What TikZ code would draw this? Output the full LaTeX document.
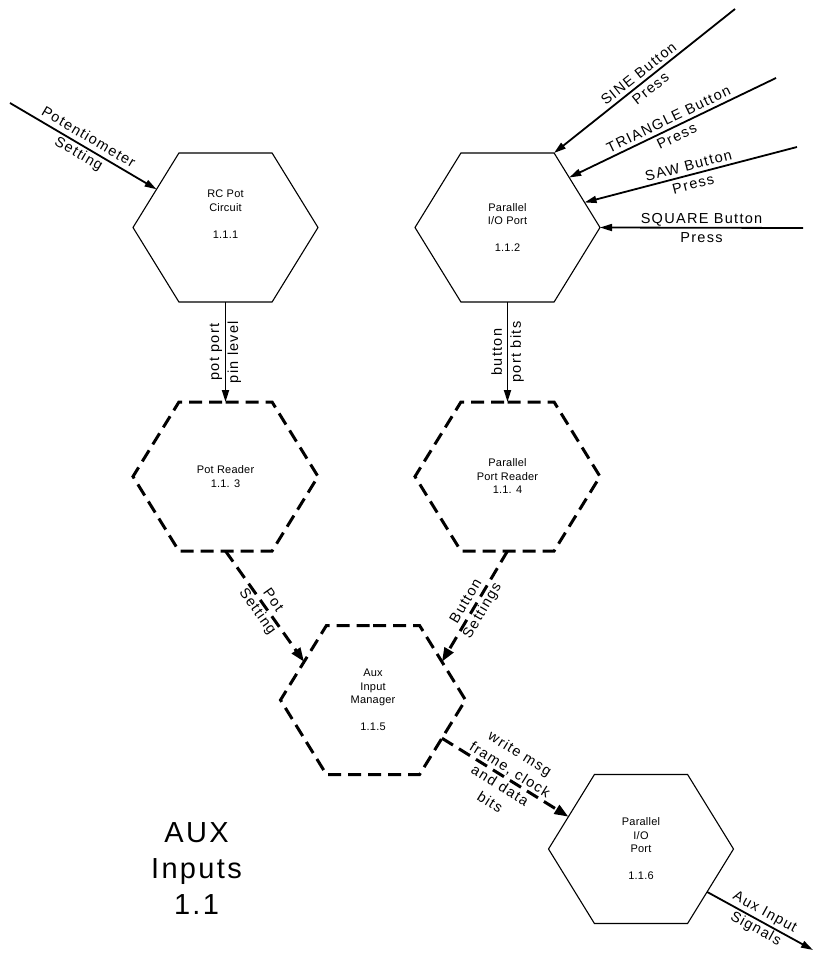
\documentclass[tikz,border=0pt]{standalone}
\usepackage{fontspec}
\setmainfont{Liberation Sans}
\newfontfamily\hexfam[LetterSpace=2]{Liberation Sans}
\newfontfamily\lblfam[LetterSpace=9]{Liberation Sans}
\newfontfamily\ttlfam[LetterSpace=8]{Liberation Sans}
\usetikzlibrary{shapes.symbols,arrows.meta}

\tikzset{
  proc/.style={draw, signal, signal to=east and west, signal pointer angle=116.7,
    minimum width=185pt, minimum height=149pt,
    inner sep=0pt, outer sep=0pt, line width=1.1pt, align=center,
    font={\hexfam\fontsize{11}{13.5}\selectfont}},
  dproc/.style={proc, line width=3pt, dash pattern=on 13pt off 7pt},
  flow/.style={-{Triangle[length=12pt,width=7pt]}, line width=1.8pt},
  dflow/.style={-{Triangle[length=14pt,width=10pt]}, line width=3pt,
    dash pattern=on 13pt off 7pt},
  lbl/.style={midway, sloped, align=center,
    font={\lblfam\fontsize{14.5}{19}\selectfont}},
  vlbl/.style={midway, rotate=90, align=center,
    font={\lblfam\fontsize{14.5}{19}\selectfont}},
}

\begin{document}
\begin{tikzpicture}[x=1pt,y=-1pt]
  \useasboundingbox (0,0) rectangle (815,955);
  %
  \node[proc] (rcpot) at (225.5,227.5) {RC Pot\\Circuit\\[13.5pt]1.1.1\\[13.5pt]\mbox{}};
  \node[proc] (pario) at (507.5,227.5) {Parallel\\I/O Port\\[13.5pt]1.1.2};
  \node[dproc] (potrd) at (225.5,476.5) {Pot Reader\\1.1. 3};
  \node[dproc] (parrd) at (507.5,476.5) {Parallel\\Port Reader\\1.1. 4};
  \node[dproc] (auxmgr) at (373,700) {Aux\\Input\\Manager\\[13.5pt]1.1.5};
  \node[proc] (auxio) at (641,849) {Parallel\\I/O\\Port\\[13.5pt]1.1.6};
  %
  \coordinate (potin) at (10,103);
  \coordinate (sinein) at (735,9);
  \coordinate (triin) at (776,78);
  \coordinate (sawin) at (797,147);
  \coordinate (sqin) at (803,228);
  \coordinate (auxout) at (813,950);
  %
  \draw[flow] (potin) -- (rcpot.151) node[lbl] {Potentiometer\\Setting};
  \draw[flow] (sinein) -- (pario.58) node[lbl] {SINE Button\\Press};
  \draw[flow] (triin) -- (pario.39) node[lbl] {TRIANGLE Button\\Press};
  \draw[flow] (sawin) -- (pario.18) node[lbl] {SAW Button\\Press};
  \draw[flow] (sqin) -- (pario.east) node[lbl] {SQUARE Button\\Press};
  %
  \draw[flow] (rcpot.south) -- (potrd.north) node[vlbl] {pot port\\pin level};
  \draw[flow] (pario.south) -- (parrd.north) node[vlbl] {button\\port bits};
  %
  \draw[dflow] (potrd.south) -- (auxmgr.151) node[lbl] {Pot\\Setting};
  \draw[dflow] (parrd.south) -- (auxmgr.29) node[lbl] {Button\\Settings};
  \draw[dflow] (auxmgr.331) -- (auxio.156) node[lbl] {write msg\\frame, clock\\and data\\bits};
  \draw[flow] (auxio.327) -- (auxout) node[lbl] {Aux Input\\Signals};
  %
  \node[align=center, font={\ttlfam\fontsize{29}{36}\selectfont}] (title) at (196.5,868.5) {AUX\\Inputs\\1.1};
\end{tikzpicture}
\end{document}
